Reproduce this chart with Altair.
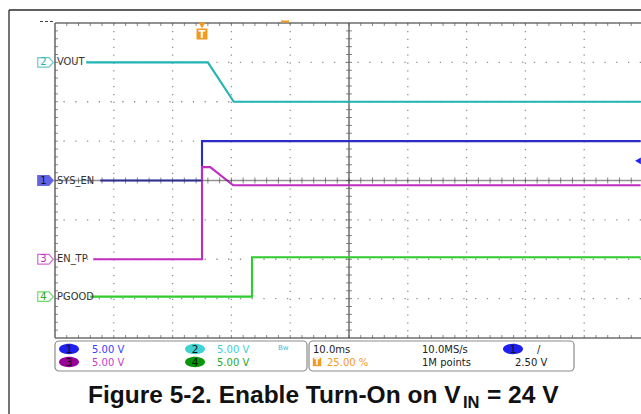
import altair as alt
import pandas as pd

# ---- acquisition settings -------------------------------------------------
TIME_PER_DIV_MS = 10.0
VOLTS_PER_DIV = 5.0
TRIGGER_LEVEL_V = 2.50

# ---- captured waveforms (time in ms relative to trigger, value in volts) ----
VOUT_T = [-19.7, 1.0, 5.4, 74.6]
VOUT_V = [0.0, 0.0, -5.0, -5.0]

SYS_EN_T = [-17.3, 0.0, 0.0, 74.6]
SYS_EN_V = [0.0, 0.0, 5.0, 5.0]

EN_TP_T = [-18.5, 0.0, 0.0, 1.4, 5.3, 74.6]
EN_TP_V = [0.0, 0.0, 11.7, 11.7, 9.4, 9.4]

PGOOD_T = [-19.0, 8.5, 8.5, 74.6]
PGOOD_V = [0.0, 0.0, 5.0, 5.0]

CHANNELS = ["SYS_EN", "VOUT", "EN_TP", "PGOOD"]
CH_NUM = ["1", "2", "3", "4"]
CH_LABEL = ["SYS_EN", "VOUT", "EN_TP", "PGOOD"]
CH_OFFSET_DIV = [0.0, 3.0, -2.0, -2.95]
CH_COLOR = ["#2b2bc8", "#22b4b4", "#c02cc0", "#2ecc2e"]

# ---- screen geometry -------------------------------------------------------
X0, Y0 = 55, 23           # top-left corner of the graticule on the page
W, H = 586, 315           # graticule size shown in the window
PX_PER_DIV_X = 58.8
T_MIN = -25.0
T_MAX = T_MIN + W / PX_PER_DIV_X * TIME_PER_DIV_MS

def px(x):
    return alt.value(x - X0)

def py(y):
    return alt.value(y - Y0)

offset = dict(zip(CHANNELS, CH_OFFSET_DIV))
rows = []
for name, ts, vs in [("VOUT", VOUT_T, VOUT_V), ("SYS_EN", SYS_EN_T, SYS_EN_V),
                     ("EN_TP", EN_TP_T, EN_TP_V), ("PGOOD", PGOOD_T, PGOOD_V)]:
    for i, (t, v) in enumerate(zip(ts, vs)):
        rows.append({"ch": name, "i": i, "t": t, "div": offset[name] + v / VOLTS_PER_DIV})
traces = pd.DataFrame(rows)

xscale = alt.Scale(domain=[T_MIN, T_MAX], nice=False, zero=False)
yscale = alt.Scale(domain=[-4, 4], nice=False, zero=False)

major_t = [T_MIN + k * TIME_PER_DIV_MS for k in range(1, 10) if k != 5]
major_y = [-3, -2, -1, 1, 2, 3]
center_t = T_MIN + 5 * TIME_PER_DIV_MS
minor_t = [T_MIN + k * TIME_PER_DIV_MS / 5 for k in range(1, 50)]
minor_y = [-4 + k * 0.2 for k in range(1, 40)]

def X(f):
    return alt.X(f, type="quantitative", scale=xscale, axis=None)

def Y(f):
    return alt.Y(f, type="quantitative", scale=yscale, axis=None)

layers = []

# graticule: dotted major divisions
gx = pd.DataFrame({"t": major_t})
gy = pd.DataFrame({"div": major_y})
layers.append(alt.Chart(gx).mark_rule(color="#8f8f8f", strokeWidth=1.3, strokeDash=[1.3, H / 40 - 1.3])
              .encode(x=X("t")))
layers.append(alt.Chart(gy).mark_rule(color="#8f8f8f", strokeWidth=1.3,
                                      strokeDash=[1.3, PX_PER_DIV_X / 5 - 1.3])
              .encode(y=Y("div")))

# border of the graticule
frame = pd.DataFrame({"t": [T_MIN]})
layers.append(alt.Chart(frame).mark_rule(color="#6e6e6e", strokeWidth=1.6).encode(x=X("t")))
hb = pd.DataFrame({"div": [4, -4]})
layers.append(alt.Chart(hb).mark_rule(color="#6e6e6e", strokeWidth=1.6).encode(y=Y("div")))

ct = pd.DataFrame({"t": [center_t]})
layers.append(alt.Chart(ct).mark_rule(color="#555555", strokeWidth=1.5, opacity=0.85).encode(x=X("t")))

# minor tick marks along the border and the centre cross
tick_top = pd.DataFrame({"t": minor_t, "div": [4] * len(minor_t)})
tick_bot = pd.DataFrame({"t": minor_t, "div": [-4] * len(minor_t)})
tick_cx = pd.DataFrame({"t": minor_t, "div": [0] * len(minor_t)})
tick_left = pd.DataFrame({"t": [T_MIN] * len(minor_y), "div": minor_y})
tick_cy = pd.DataFrame({"t": [center_t] * len(minor_y), "div": minor_y})
layers.append(alt.Chart(tick_top).mark_tick(orient="vertical", size=3, thickness=1, color="#555", yOffset=1.5)
              .encode(x=X("t"), y=Y("div")))
layers.append(alt.Chart(tick_bot).mark_tick(orient="vertical", size=3, thickness=1, color="#555", yOffset=-1.5)
              .encode(x=X("t"), y=Y("div")))
layers.append(alt.Chart(tick_cx).mark_tick(orient="vertical", size=6, thickness=1, color="#555")
              .encode(x=X("t"), y=Y("div")))
layers.append(alt.Chart(tick_left).mark_tick(orient="horizontal", size=3, thickness=1, color="#555", xOffset=1.5)
              .encode(x=X("t"), y=Y("div")))
layers.append(alt.Chart(tick_cy).mark_tick(orient="horizontal", size=6, thickness=1, color="#555")
              .encode(x=X("t"), y=Y("div")))

# waveforms
layers.append(alt.Chart(traces).mark_line(strokeWidth=2.1, interpolate="linear").encode(
    x=X("t"), y=Y("div"),
    color=alt.Color("ch:N", scale=alt.Scale(domain=CHANNELS, range=CH_COLOR), legend=None),
    order=alt.Order("i:Q"), detail="ch:N"))

# horizontal centre line on top so the low SYS_EN level reads darker
cy = pd.DataFrame({"div": [0]})
layers.append(alt.Chart(cy).mark_rule(color="#3a3a3a", strokeWidth=1.5, opacity=0.55).encode(y=Y("div")))

# channel tags and names at each channel's ground reference
tags = pd.DataFrame({
    "ch": CHANNELS, "num": CH_NUM, "label": CH_LABEL, "div": CH_OFFSET_DIV,
    "stroke": CH_COLOR,
    "fill": ["#2020e0", "#ffffff", "#ffffff", "#ffffff"],
    "numcolor": ["#111111", "#22b4b4", "#c02cc0", "#22a822"],
})
tag_shape = "M-1,-0.62 L0.45,-0.62 L1,0 L0.45,0.62 L-1,0.62 Z"
layers.append(alt.Chart(tags).mark_point(shape=tag_shape, size=240, filled=True, strokeWidth=1.2).encode(
    x=px(45.5), y=Y("div"),
    fill=alt.Fill("fill:N", scale=None), stroke=alt.Stroke("stroke:N", scale=None)))
layers.append(alt.Chart(tags).mark_text(fontSize=10, font="DejaVu Sans", align="center", baseline="middle").encode(
    x=px(43.5), y=Y("div"), text="num:N", color=alt.Color("numcolor:N", scale=None)))
layers.append(alt.Chart(tags).mark_text(fontSize=11, font="DejaVu Sans Condensed, DejaVu Sans",
                                        align="left", baseline="middle", color="#333333").encode(
    x=px(57), y=Y("div"), text="label:N"))

# trigger position marker and trigger level marker
trig = pd.DataFrame({"t": [0.0], "lvl": [CH_OFFSET_DIV[0] + TRIGGER_LEVEL_V / VOLTS_PER_DIV]})
layers.append(alt.Chart(trig).mark_point(shape="triangle-down", size=45, filled=True, color="#f39a1c", opacity=1)
              .encode(x=X("t"), y=py(25.5)))
layers.append(alt.Chart(trig).mark_point(shape="square", size=120, filled=True, color="#f39a1c", opacity=1)
              .encode(x=X("t"), y=py(34)))
layers.append(alt.Chart(trig).mark_text(text="T", fontSize=10, fontWeight="bold", font="DejaVu Sans",
                                        color="white", align="center", baseline="middle")
              .encode(x=X("t"), y=py(34.5)))
layers.append(alt.Chart(trig).mark_point(shape="triangle-left", size=45, filled=True, color="#2020f0", opacity=1)
              .encode(x=px(638), y=Y("lvl")))

# small marks above the graticule
layers.append(alt.Chart(trig).mark_rule(color="#f39a1c", strokeWidth=2).encode(
    x=px(281), x2=px(289), y=py(21.5)))
layers.append(alt.Chart(trig).mark_rule(color="#444444", strokeWidth=1.2, strokeDash=[3, 2]).encode(
    x=px(40), x2=px(55), y=py(21.5)))

# outer window frame
layers.append(alt.Chart(trig).mark_rule(color="#2a2a2a", strokeWidth=1.3).encode(
    x=px(9), x2=px(641), y=py(10)))
layers.append(alt.Chart(trig).mark_rule(color="#2a2a2a", strokeWidth=1.3).encode(
    x=px(9), y=py(10), y2=py(414)))

# status bar
layers.append(alt.Chart(trig).mark_rect(fill="white", stroke="#8c8c8c", strokeWidth=1.2, cornerRadius=4).encode(
    x=px(55), x2=px(307), y=py(341), y2=py(371)))
layers.append(alt.Chart(trig).mark_rect(fill="white", stroke="#8c8c8c", strokeWidth=1.2, cornerRadius=4).encode(
    x=px(309), x2=px(574), y=py(341), y2=py(371)))

SCALE_TXT = ["5.00 V", "5.00 V", "5.00 V", "5.00 V"]
badges = pd.DataFrame({
    "num": ["1", "3", "2", "4", "1"],
    "x": [69, 69, 195, 195, 513],
    "y": [349, 362, 349, 362, 349],
    "fill": ["#1f1ff0", "#990099", "#3fd2d2", "#0a960a", "#1f1ff0"],
})
ellipse = "M-1,0 A1,0.52 0 1,1 1,0 A1,0.52 0 1,1 -1,0 Z"
for _, b in badges.iterrows():
    layers.append(alt.Chart(trig).mark_point(shape=ellipse, size=400, filled=True, color=b["fill"], opacity=1)
                  .encode(x=px(b["x"]), y=py(b["y"])))
    layers.append(alt.Chart(trig).mark_text(text=b["num"], fontSize=10.5, font="DejaVu Sans", color="#111111",
                                            align="center", baseline="middle")
                  .encode(x=px(b["x"]), y=py(b["y"] + 0.5)))

status = [
    (SCALE_TXT[0], 92, 349, "#3b3bff"),
    (SCALE_TXT[2], 92, 362, "#c83cc8"),
    (SCALE_TXT[1], 217, 349, "#3fcfcf"),
    (SCALE_TXT[3], 217, 362, "#2aa82a"),
    ("Bw", 278, 347, "#3fb8d8"),
    ("10.0ms", 313, 349, "#222222"),
    ("25.00 %", 327, 362, "#f39a1c"),
    ("10.0MS/s", 422, 349, "#222222"),
    ("1M points", 422, 362, "#222222"),
    ("/", 537, 349, "#222222"),
    ("2.50 V", 515, 362, "#222222"),
]
for txt, x, y, c in status:
    layers.append(alt.Chart(trig).mark_text(text=txt, fontSize=7 if txt == "Bw" else 10, font="DejaVu Sans",
                                            color=c, align="left", baseline="middle")
                  .encode(x=px(x), y=py(y + 0.5)))
layers.append(alt.Chart(trig).mark_point(shape="square", size=70, filled=True, color="#f39a1c", opacity=1)
              .encode(x=px(317), y=py(362)))
layers.append(alt.Chart(trig).mark_text(text="T", fontSize=8, fontWeight="bold", font="DejaVu Sans",
                                        color="white", align="center", baseline="middle")
              .encode(x=px(317), y=py(362.5)))

# caption
TITLE_MAIN = "Figure 5-2. Enable Turn-On on V"
TITLE_SUB = "IN"
TITLE_END = "= 24 V"
layers.append(alt.Chart(trig).mark_text(text=TITLE_MAIN, font="Liberation Sans", fontWeight="bold", fontSize=24.5,
                                        color="#111111", align="left", baseline="alphabetic")
              .encode(x=px(88), y=py(403)))
layers.append(alt.Chart(trig).mark_text(text=TITLE_SUB, font="Liberation Sans", fontWeight="bold", fontSize=16.5,
                                        color="#111111", align="left", baseline="alphabetic")
              .encode(x=px(463), y=py(408)))
layers.append(alt.Chart(trig).mark_text(text=TITLE_END, font="Liberation Sans", fontWeight="bold", fontSize=24.5,
                                        color="#111111", align="left", baseline="alphabetic")
              .encode(x=px(487), y=py(403)))

chart = alt.layer(*layers).properties(
    width=W, height=H,
    padding={"left": X0, "top": Y0, "right": 641 - X0 - W, "bottom": 414 - Y0 - H},
    autosize=alt.AutoSizeParams(type="none"),
    background="white",
).configure_view(stroke=None)

chart.save("out.html", embed_options={"renderer": "svg", "actions": False})
